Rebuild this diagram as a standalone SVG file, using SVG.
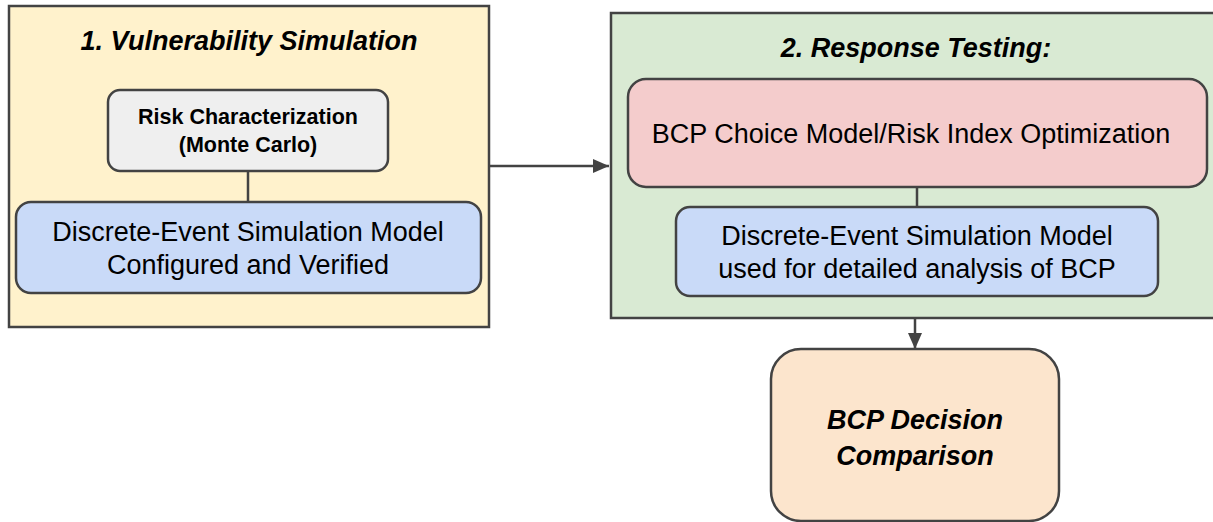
<svg xmlns="http://www.w3.org/2000/svg" width="1213" height="522" viewBox="0 0 1213 522">
  <style>
    .box { stroke: #434343; stroke-width: 2.5; }
    .t { font-family: "Liberation Sans", Arial, sans-serif; fill: #000; text-anchor: middle; }
    .big { font-size: 27px; }
    .title { font-size: 27px; font-weight: bold; font-style: italic; }
    .small { font-size: 21.5px; font-weight: bold; }
    .conn { stroke: #434343; stroke-width: 2.5; fill: none; }
  </style>
  <defs>
    <marker id="arrow" viewBox="0 0 16 14" refX="16" refY="7" markerWidth="16" markerHeight="14" markerUnits="userSpaceOnUse" orient="auto">
      <path d="M0,0 L16,7 L0,14 Z" fill="#434343"/>
    </marker>
  </defs>

  <rect width="1213" height="522" fill="#ffffff"/>

  <!-- Stage 1 container -->
  <g id="stage1">
    <rect class="box" x="9" y="6" width="480" height="321" fill="#fff2cc"/>
    <text class="t title" x="249" y="50">1. Vulnerability Simulation</text>
  </g>

  <!-- Stage 2 container (runs off the right edge) -->
  <g id="stage2">
    <rect class="box" x="611" y="13" width="620" height="305" fill="#d9ead3"/>
    <text class="t title" x="916" y="57">2. Response Testing:</text>
  </g>

  <!-- connectors -->
  <g id="connectors">
    <line class="conn" x1="248" y1="171" x2="248" y2="202"/>
    <line class="conn" x1="917" y1="187" x2="917" y2="207"/>
    <line class="conn" x1="489" y1="166" x2="609" y2="166" marker-end="url(#arrow)"/>
    <line class="conn" x1="915" y1="318" x2="915" y2="349" marker-end="url(#arrow)"/>
  </g>

  <g id="risk">
    <rect class="box" x="108" y="90" width="280" height="81" rx="12" fill="#efefef"/>
    <text class="t small" x="248" y="124">Risk Characterization</text>
    <text class="t small" x="248" y="152">(Monte Carlo)</text>
  </g>

  <g id="des1">
    <rect class="box" x="16" y="202" width="465" height="91" rx="15" fill="#c9daf8"/>
    <text class="t big" x="248" y="241">Discrete-Event Simulation Model</text>
    <text class="t big" x="248" y="274">Configured and Verified</text>
  </g>

  <g id="choice">
    <rect class="box" x="628" y="79" width="579" height="108" rx="18" fill="#f4cccc"/>
    <text class="t big" x="911" y="143">BCP Choice Model/Risk Index Optimization</text>
  </g>

  <g id="des2">
    <rect class="box" x="676" y="207" width="482" height="89" rx="14" fill="#c9daf8"/>
    <text class="t big" x="917" y="245">Discrete-Event Simulation Model</text>
    <text class="t big" x="917" y="278">used for detailed analysis of BCP</text>
  </g>

  <g id="decision">
    <rect class="box" x="771" y="349" width="288" height="172" rx="30" fill="#fce5cd"/>
    <text class="t title" x="915" y="429">BCP Decision</text>
    <text class="t title" x="915" y="465">Comparison</text>
  </g>
</svg>
